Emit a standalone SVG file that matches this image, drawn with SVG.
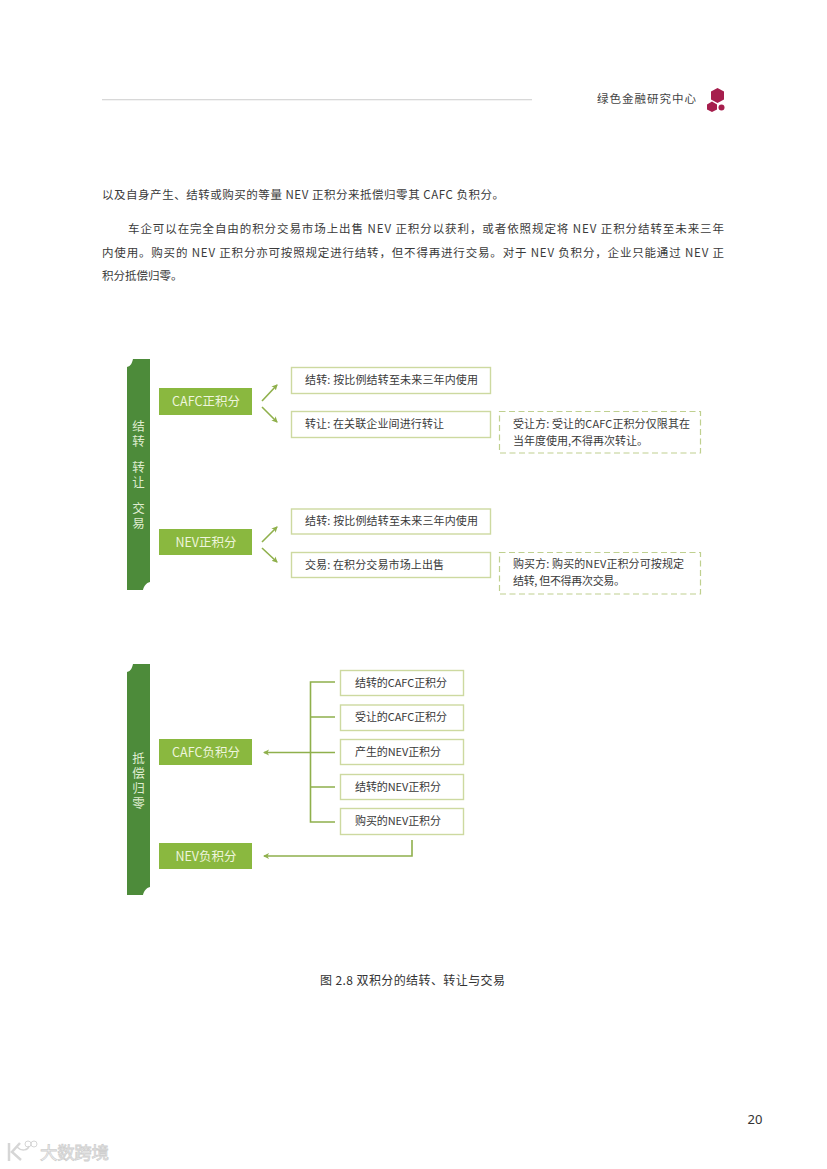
<svg xmlns="http://www.w3.org/2000/svg" width="827" height="1169" viewBox="0 0 827 1169">
<style>
text{font-family:"Noto Sans CJK SC","Noto Sans",sans-serif}
.body{font-size:11.5px;fill:#3a3a3a}
.bar{fill:#4d8b3a}
.barT{font-size:12.5px;fill:#dfeccf;writing-mode:vertical-rl;letter-spacing:2.5px}
.head{fill:#8ab83f}
.headT{font-size:12.5px;fill:#eef5dd;text-anchor:middle}
.box{fill:#fff;stroke:#cdd9a0;stroke-width:1.4}
.dash{fill:#fff;stroke:#bfd08f;stroke-width:1.2;stroke-dasharray:6 3.5}
.t{font-size:11px;fill:#3a3a3a}
.ln{fill:none;stroke:#8fb04c;stroke-width:1.6}
.ar{fill:none;stroke:#8fb04c;stroke-width:1.6;marker-end:url(#a)}
</style>
<defs>
<marker id="a" markerWidth="7" markerHeight="7" refX="5" refY="3" orient="auto" markerUnits="userSpaceOnUse"><path d="M0,0L6,3L0,6L1.500,3z" fill="#8fb04c"/></marker>
</defs>
<rect width="827" height="1169" fill="#fff"/>
<g id="header">
<rect x="102" y="99" width="430" height="1.300" fill="#d8d8d8"/>
<text x="597" y="103" fill="#444" textLength="99" style="font-size:11.500px">绿色金融研究中心</text>
<path d="M717.500,88L724,91.500V99.500L717.500,103L711,99.500V91.500z" fill="#a61e4d"/>
<path d="M712,101.500L717,104.500V109.500L712,112L707,109.500V104.500z" fill="#a61e4d"/>
<circle cx="721.500" cy="107.500" r="3" fill="#a61e4d"/>
</g>
<g id="paragraph">
<text class="body" x="102" y="199" textLength="402">以及自身产生、结转或购买的等量 NEV 正积分来抵偿归零其 CAFC 负积分。</text>
<text class="body" x="128" y="233" textLength="596">车企可以在完全自由的积分交易市场上出售 NEV 正积分以获利，或者依照规定将 NEV 正积分结转至未来三年</text>
<text class="body" x="102" y="257" textLength="622">内使用。购买的 NEV 正积分亦可按照规定进行结转，但不得再进行交易。对于 NEV 负积分，企业只能通过 NEV 正</text>
<text class="body" x="102" y="280">积分抵偿归零。</text>
</g>
<g id="connectors">
<path class="ar" d="M262,401L277,385"/>
<path class="ar" d="M262,407L277,422"/>
<path class="ar" d="M262,542L277,527"/>
<path class="ar" d="M262,548L277,562"/>
<path class="ln" d="M335,682H310.500V822H335M310.500,717H335M310.500,787H335"/>
<path class="ar" d="M335,752.500H264"/>
<path class="ar" d="M412,840V856H264"/>
</g>
<g id="bar-top">
<path class="bar" d="M133,359H150V582C146,583 144,586 143,590H127V367C131,366 132,363 133,359z"/>
<text class="barT" x="138.500" y="420">结转</text>
<text class="barT" x="138.500" y="461">转让</text>
<text class="barT" x="138.500" y="502">交易</text>
</g>
<g id="cafc-pos"><rect class="head" x="159" y="388" width="93" height="27"/><text class="headT" x="206" y="406">CAFC正积分</text></g>
<g id="nev-pos"><rect class="head" x="159" y="529" width="93" height="26"/><text class="headT" x="206" y="546.500">NEV正积分</text></g>
<g id="b1"><rect class="box" x="291.500" y="367.500" width="199" height="26"/><text class="t" x="305" y="384" textLength="173">结转: 按比例结转至未来三年内使用</text></g>
<g id="b2"><rect class="box" x="291.500" y="411.500" width="199" height="26"/><text class="t" x="305" y="428" textLength="139">转让: 在关联企业间进行转让</text></g>
<g id="b3"><rect class="dash" x="499.500" y="411.500" width="201" height="41.500"/><text class="t" x="513" y="428" textLength="177">受让方: 受让的CAFC正积分仅限其在</text><text class="t" x="513" y="445" textLength="135">当年度使用,不得再次转让。</text></g>
<g id="b4"><rect class="box" x="291.500" y="509" width="199" height="25"/><text class="t" x="305" y="525" textLength="173">结转: 按比例结转至未来三年内使用</text></g>
<g id="b5"><rect class="box" x="291.500" y="552.500" width="199" height="25"/><text class="t" x="305" y="569" textLength="139">交易: 在积分交易市场上出售</text></g>
<g id="b6"><rect class="dash" x="499.500" y="552.500" width="201" height="41.500"/><text class="t" x="513" y="568" textLength="171">购买方: 购买的NEV正积分可按规定</text><text class="t" x="513" y="585" textLength="112">结转, 但不得再次交易。</text></g>
<g id="bar-bottom">
<path class="bar" d="M133,664H150V887C146,888 144,891 143,895H127V672C131,671 132,668 133,664z"/>
<text class="barT" x="138.500" y="752">抵偿归零</text>
</g>
<g id="cafc-neg"><rect class="head" x="159" y="739" width="93" height="26"/><text class="headT" x="206" y="756.500">CAFC负积分</text></g>
<g id="nev-neg"><rect class="head" x="159" y="843" width="93" height="26"/><text class="headT" x="206" y="860.500">NEV负积分</text></g>
<g id="c1"><rect class="box" x="340.500" y="670.500" width="123" height="25"/><text class="t" x="355" y="686.500" textLength="92">结转的CAFC正积分</text></g>
<g id="c2"><rect class="box" x="340.500" y="705" width="123" height="25.500"/><text class="t" x="355" y="721" textLength="92">受让的CAFC正积分</text></g>
<g id="c3"><rect class="box" x="340.500" y="739.500" width="123" height="25"/><text class="t" x="355" y="755.500" textLength="86">产生的NEV正积分</text></g>
<g id="c4"><rect class="box" x="340.500" y="774.500" width="123" height="25"/><text class="t" x="355" y="790.500" textLength="86">结转的NEV正积分</text></g>
<g id="c5"><rect class="box" x="340.500" y="808.500" width="123" height="26"/><text class="t" x="355" y="825" textLength="86">购买的NEV正积分</text></g>
<text x="320" y="985" textLength="185" style="font-size:12px" fill="#333">图 2.8 双积分的结转、转让与交易</text>
<text x="755" y="1124" text-anchor="middle" style="font-size:13px;font-family:'Noto Sans',sans-serif" fill="#333">20</text>
<g id="watermark" fill="none" stroke="#d6d6d6">
<path d="M9,1143V1161M20,1143L12,1152L21,1160" stroke-width="2.500"/>
<path d="M17,1147C22,1152 28,1150 29,1146" stroke-width="1.500"/>
<circle cx="28" cy="1144" r="3" stroke-width="1"/><circle cx="34" cy="1144" r="3" stroke-width="1"/>
<text x="40" y="1159" style="font-size:17.500px" fill="#f6f6f6" stroke="#cfcfcf" stroke-width="0.800" textLength="69">大数跨境</text>
</g>
</svg>
